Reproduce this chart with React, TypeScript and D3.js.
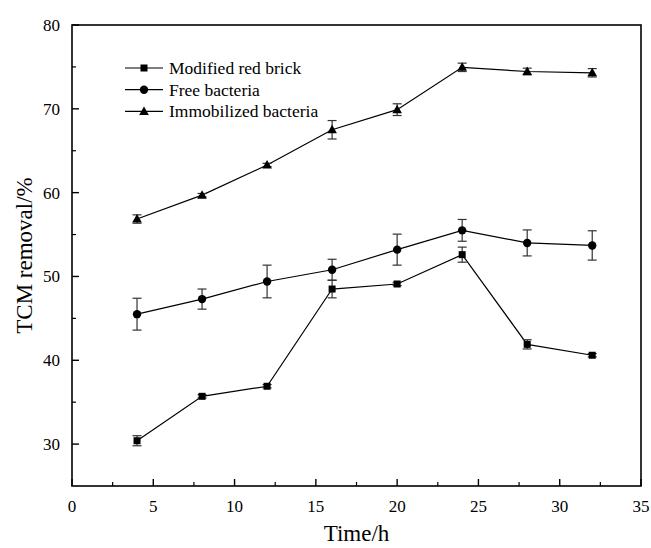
import React from "react";
import * as d3 from "d3";

const times = [4, 8, 12, 16, 20, 24, 28, 32];
const brick = [30.4, 35.7, 36.9, 48.5, 49.1, 52.6, 41.9, 40.6];
const brickErr = [0.6, 0.2, 0.2, 1.05, 0.2, 0.9, 0.55, 0.2];
const free = [45.5, 47.3, 49.4, 50.8, 53.2, 55.5, 54.0, 53.7];
const freeErr = [1.9, 1.2, 1.95, 1.25, 1.85, 1.3, 1.55, 1.75];
const immob = [56.85, 59.7, 63.3, 67.5, 69.9, 74.95, 74.45, 74.3];
const immobErr = [0.5, 0.2, 0.2, 1.1, 0.7, 0.5, 0.4, 0.5];
const seriesNames = ["Modified red brick", "Free bacteria", "Immobilized bacteria"];
const xTicks = [0, 5, 10, 15, 20, 25, 30, 35];
const yTicks = [30, 40, 50, 60, 70, 80];

const W = 651, H = 548;
const M = { left: 72, right: 641, top: 25, bottom: 486 };
const FONT = "'Liberation Serif', 'Times New Roman', serif";

function Marker({ type, x, y }: { type: string; x: number; y: number }) {
  if (type === "square") return <rect x={x - 3.5} y={y - 3.5} width={7} height={7} fill="#000" />;
  if (type === "circle") return <circle cx={x} cy={y} r={4.2} fill="#000" />;
  return <path d={`M${x},${y - 5} L${x + 4.8},${y + 3.5} L${x - 4.8},${y + 3.5} Z`} fill="#000" />;
}

export default function App() {
  const x = d3.scaleLinear().domain([0, 35]).range([M.left, M.right]);
  const y = d3.scaleLinear().domain([25, 80]).range([M.bottom, M.top]);
  const line = d3.line<number>().x((_, i) => x(times[i])).y((d) => y(d));
  const series = [
    { vals: brick, err: brickErr, type: "square" },
    { vals: free, err: freeErr, type: "circle" },
    { vals: immob, err: immobErr, type: "triangle" },
  ];
  const xMinor = d3.range(2.5, 35, 5);
  const yMinor = d3.range(35, 80, 10);
  return (
    <svg width={W} height={H} style={{ position: "absolute", left: 0, top: 0, fontFamily: FONT }}>
      <rect width={W} height={H} fill="#fff" />
      <rect x={M.left} y={M.top} width={M.right - M.left} height={M.bottom - M.top} fill="none" stroke="#000" strokeWidth={1.6} />
      {xTicks.map((t) => (
        <g key={"xt" + t}>
          <line x1={x(t)} x2={x(t)} y1={M.bottom} y2={M.bottom - 7} stroke="#000" strokeWidth={1.4} />
          <text x={x(t)} y={512} fontSize={17} textAnchor="middle" style={{ fontFamily: FONT }}>{t}</text>
        </g>
      ))}
      {xMinor.map((t) => (
        <line key={"xm" + t} x1={x(t)} x2={x(t)} y1={M.bottom} y2={M.bottom - 4} stroke="#000" strokeWidth={1.2} />
      ))}
      {yTicks.map((t) => (
        <g key={"yt" + t}>
          <line x1={M.left} x2={M.left + 7} y1={y(t)} y2={y(t)} stroke="#000" strokeWidth={1.4} />
          <text x={60} y={y(t) + 6} fontSize={17} textAnchor="end" style={{ fontFamily: FONT }}>{t}</text>
        </g>
      ))}
      {yMinor.map((t) => (
        <line key={"ym" + t} x1={M.left} x2={M.left + 4} y1={y(t)} y2={y(t)} stroke="#000" strokeWidth={1.2} />
      ))}
      <text x={(M.left + M.right) / 2} y={541} fontSize={23} textAnchor="middle" style={{ fontFamily: FONT }}>Time/h</text>
      <text transform={`translate(32,${(M.top + M.bottom) / 2}) rotate(-90)`} fontSize={23} textAnchor="middle" style={{ fontFamily: FONT }}>TCM removal/%</text>
      {series.map((s, si) => (
        <g key={"s" + si}>
          <path d={line(s.vals) || ""} fill="none" stroke="#000" strokeWidth={1.2} />
          {s.vals.map((v, i) => {
            const cx = x(times[i]);
            const y1 = y(v + s.err[i]);
            const y2 = y(v - s.err[i]);
            return (
              <g key={i} stroke="#333" strokeWidth={1.2}>
                <line x1={cx} x2={cx} y1={y1} y2={y2} />
                <line x1={cx - 4.5} x2={cx + 4.5} y1={y1} y2={y1} />
                <line x1={cx - 4.5} x2={cx + 4.5} y1={y2} y2={y2} />
              </g>
            );
          })}
          {s.vals.map((v, i) => (
            <Marker key={"m" + i} type={s.type} x={x(times[i])} y={y(v)} />
          ))}
        </g>
      ))}
      {series.map((s, si) => {
        const ly = 68 + si * 21.7;
        return (
          <g key={"lg" + si}>
            <line x1={125} x2={163} y1={ly} y2={ly} stroke="#000" strokeWidth={1.2} />
            <Marker type={s.type} x={144} y={ly} />
            <text x={169} y={ly + 6} fontSize={17.5} style={{ fontFamily: FONT }}>{seriesNames[si]}</text>
          </g>
        );
      })}
    </svg>
  );
}
